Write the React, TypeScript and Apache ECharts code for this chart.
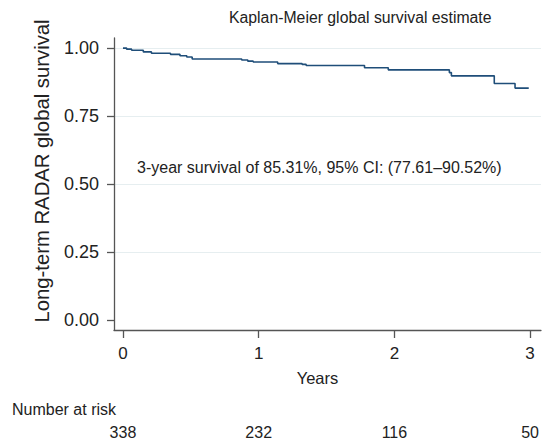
import React, { useEffect, useRef } from "react";
import * as echarts from "echarts";

const times = [0, 0.027, 0.064, 0.15, 0.21, 0.35, 0.42, 0.47, 0.51, 0.875, 0.92, 0.96, 1.14, 1.32, 1.35, 1.78, 1.955, 2.405, 2.42, 2.736, 2.889, 2.99];
const survival = [1.0, 0.996, 0.992, 0.986, 0.981, 0.977, 0.972, 0.967, 0.96, 0.956, 0.952, 0.949, 0.943, 0.94, 0.936, 0.928, 0.92, 0.91, 0.898, 0.87, 0.8531, 0.8531];
const xTicks = [0, 1, 2, 3];
const yTicks = [0, 0.25, 0.5, 0.75, 1];
const atRisk = [338, 232, 116, 50];
const titleText = "Kaplan-Meier global survival estimate";
const yTitle = "Long-term RADAR global survival";
const noteText = "3-year survival of 85.31%, 95% CI: (77.61\u201390.52%)";

const FONT = "'Liberation Sans', Arial, Helvetica, sans-serif";
const TXT = "#222222";
const AXC = "#555555";

export default function App() {
  const ref = useRef<HTMLDivElement>(null);
  useEffect(() => {
    if (!ref.current) return;
    const chart = echarts.init(ref.current, undefined, { renderer: "svg" });
    const data = times.map((t, i) => [t, survival[i]]);
    chart.setOption({
      animation: false,
      backgroundColor: "#ffffff",
      textStyle: { fontFamily: FONT },
      title: {
        text: titleText,
        left: 224,
        top: 4,
        textStyle: { fontFamily: FONT, fontSize: 15.8, fontWeight: "normal", color: TXT },
      },
      grid: { left: 114, right: 1, top: 38, bottom: 111, containLabel: false },
      xAxis: [
        {
          type: "value",
          min: -0.066,
          max: 3.08,
          name: "Years",
          nameLocation: "middle",
          nameGap: 39,
          nameTextStyle: { fontFamily: FONT, fontSize: 16.5, color: TXT, padding: [0, 20, 0, 0] },
          axisLine: { show: true, onZero: false, lineStyle: { color: AXC, width: 1.3 } },
          axisTick: { show: true, customValues: xTicks, length: 8, lineStyle: { color: AXC, width: 1.3 } },
          axisLabel: { customValues: xTicks, margin: 15, fontSize: 17, color: TXT, fontFamily: FONT },
          splitLine: { show: false },
        },
        {
          type: "value",
          min: -0.066,
          max: 3.08,
          position: "bottom",
          offset: 0,
          axisLine: { show: false },
          axisTick: { show: false },
          axisLabel: {
            customValues: xTicks,
            margin: 94,
            fontSize: 16,
            color: TXT,
            fontFamily: FONT,
            formatter: (v: number) => String(atRisk[xTicks.indexOf(Math.round(v))] ?? ""),
          },
          splitLine: { show: false },
        },
      ],
      yAxis: {
        type: "value",
        min: -0.035,
        max: 1.037,
        axisLine: { show: true, onZero: false, lineStyle: { color: AXC, width: 1.3 } },
        axisTick: { show: true, customValues: yTicks, length: 7, lineStyle: { color: AXC, width: 1.3 } },
        axisLabel: {
          customValues: yTicks,
          margin: 15,
          fontSize: 18,
          color: TXT,
          fontFamily: FONT,
          formatter: (v: number) => v.toFixed(2),
        },
        splitLine: { show: false },
      },
      graphic: [
        {
          type: "text",
          x: 42,
          y: 171,
          rotation: Math.PI / 2,
          style: {
            text: yTitle,
            fontSize: 20.3,
            fill: TXT,
            fontFamily: FONT,
            align: "center",
            verticalAlign: "middle",
          },
        },
        {
          type: "text",
          left: 137,
          top: 159,
          style: { text: noteText, fontSize: 16, fill: TXT, fontFamily: FONT },
        },
        {
          type: "text",
          left: 12,
          top: 401,
          style: { text: "Number at risk", fontSize: 16, fill: TXT, fontFamily: FONT },
        },
      ],
      series: [
        {
          type: "line",
          data,
          step: "end",
          showSymbol: false,
          symbol: "none",
          lineStyle: { color: "#1f4e79", width: 1.6 },
          xAxisIndex: 0,
          yAxisIndex: 0,
          markLine: {
            silent: true,
            symbol: ["none", "none"],
            label: { show: false },
            lineStyle: { color: "#e6eef0", width: 1.2, type: "solid" },
            data: yTicks.filter((v) => v > 0).map((v) => ({ yAxis: v })),
            z: 0,
          },
          z: 3,
        },
      ],
    });
    return () => chart.dispose();
  }, []);
  return (
    <div
      ref={ref}
      style={{ position: "fixed", left: 0, top: 0, width: 542, height: 441 }}
    />
  );
}
